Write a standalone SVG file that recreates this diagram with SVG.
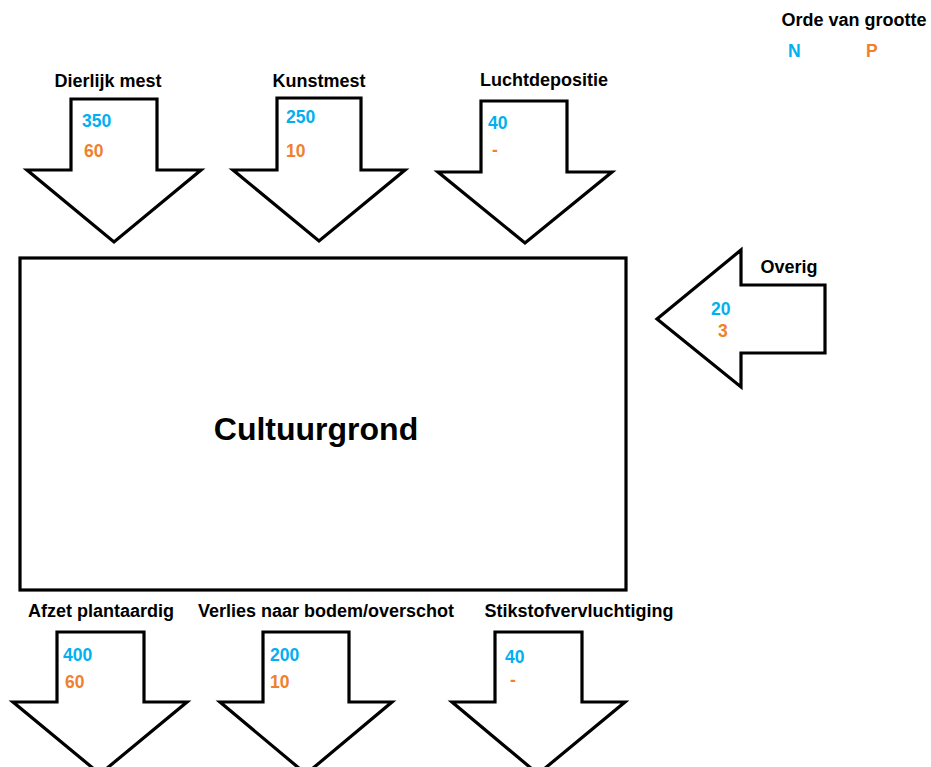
<svg xmlns="http://www.w3.org/2000/svg" width="931" height="767" viewBox="0 0 931 767">
<style>
.shape{fill:#fff;stroke:#000;stroke-width:3.2;stroke-linejoin:miter}
.lbl{font-family:"Liberation Sans",Arial,sans-serif;font-weight:bold;font-size:18px;fill:#000;text-anchor:middle}
.n{font-family:"Liberation Sans",Arial,sans-serif;font-weight:bold;font-size:17.5px;fill:#00B0F0}
.p{font-family:"Liberation Sans",Arial,sans-serif;font-weight:bold;font-size:17.5px;fill:#F07F2E}
.big{font-family:"Liberation Sans",Arial,sans-serif;font-weight:bold;font-size:32px;fill:#000;text-anchor:middle}
</style>
<rect width="931" height="767" fill="#fff"/>
<g id="legend">
<text class="lbl" x="854" y="26">Orde van grootte</text>
<text class="n" x="788" y="57">N</text>
<text class="p" x="866" y="57">P</text>
</g>
<g id="dierlijk-mest">
<text class="lbl" x="108" y="87">Dierlijk mest</text>
<polygon class="shape" points="71,99 157,99 157,170 201,170 114,242 27,170 71,170"/>
<text class="n" x="82" y="127">350</text>
<text class="p" x="84" y="157">60</text>
</g>
<g id="kunstmest">
<text class="lbl" x="319" y="87">Kunstmest</text>
<polygon class="shape" points="277,98 361,98 361,170 405,170 319,241 233,170 277,170"/>
<text class="n" x="286" y="123">250</text>
<text class="p" x="286" y="157">10</text>
</g>
<g id="luchtdepositie">
<text class="lbl" x="544" y="86">Luchtdepositie</text>
<polygon class="shape" points="481,101 567,101 567,172 612,172 525,243 438,172 481,172"/>
<text class="n" x="488" y="129">40</text>
<text class="p" x="492" y="156">-</text>
</g>
<g id="overig">
<text class="lbl" x="789" y="273">Overig</text>
<polygon class="shape" points="825,285 825,353 741,353 741,387 657,319 741,250 741,285"/>
<text class="n" x="711" y="315">20</text>
<text class="p" x="718" y="337">3</text>
</g>
<g id="cultuurgrond">
<rect class="shape" x="20" y="258" width="606" height="332"/>
<text class="big" x="316" y="440">Cultuurgrond</text>
</g>
<g id="afzet-plantaardig">
<text class="lbl" x="101" y="617">Afzet plantaardig</text>
<polygon class="shape" points="57,632 144,632 144,702 187,702 100,774 13,702 57,702"/>
<text class="n" x="63" y="661">400</text>
<text class="p" x="65" y="688">60</text>
</g>
<g id="verlies-bodem">
<text class="lbl" x="326" y="617">Verlies naar bodem/overschot</text>
<polygon class="shape" points="263,632 349,632 349,702 392,702 306,774 220,702 263,702"/>
<text class="n" x="270" y="661">200</text>
<text class="p" x="270" y="688">10</text>
</g>
<g id="stikstofvervluchtiging">
<text class="lbl" x="579" y="617">Stikstofvervluchtiging</text>
<polygon class="shape" points="495,632 582,632 582,702 625,702 538,774 452,702 495,702"/>
<text class="n" x="505" y="663">40</text>
<text class="p" x="510" y="686">-</text>
</g>
<g id="connectors"/>
</svg>
